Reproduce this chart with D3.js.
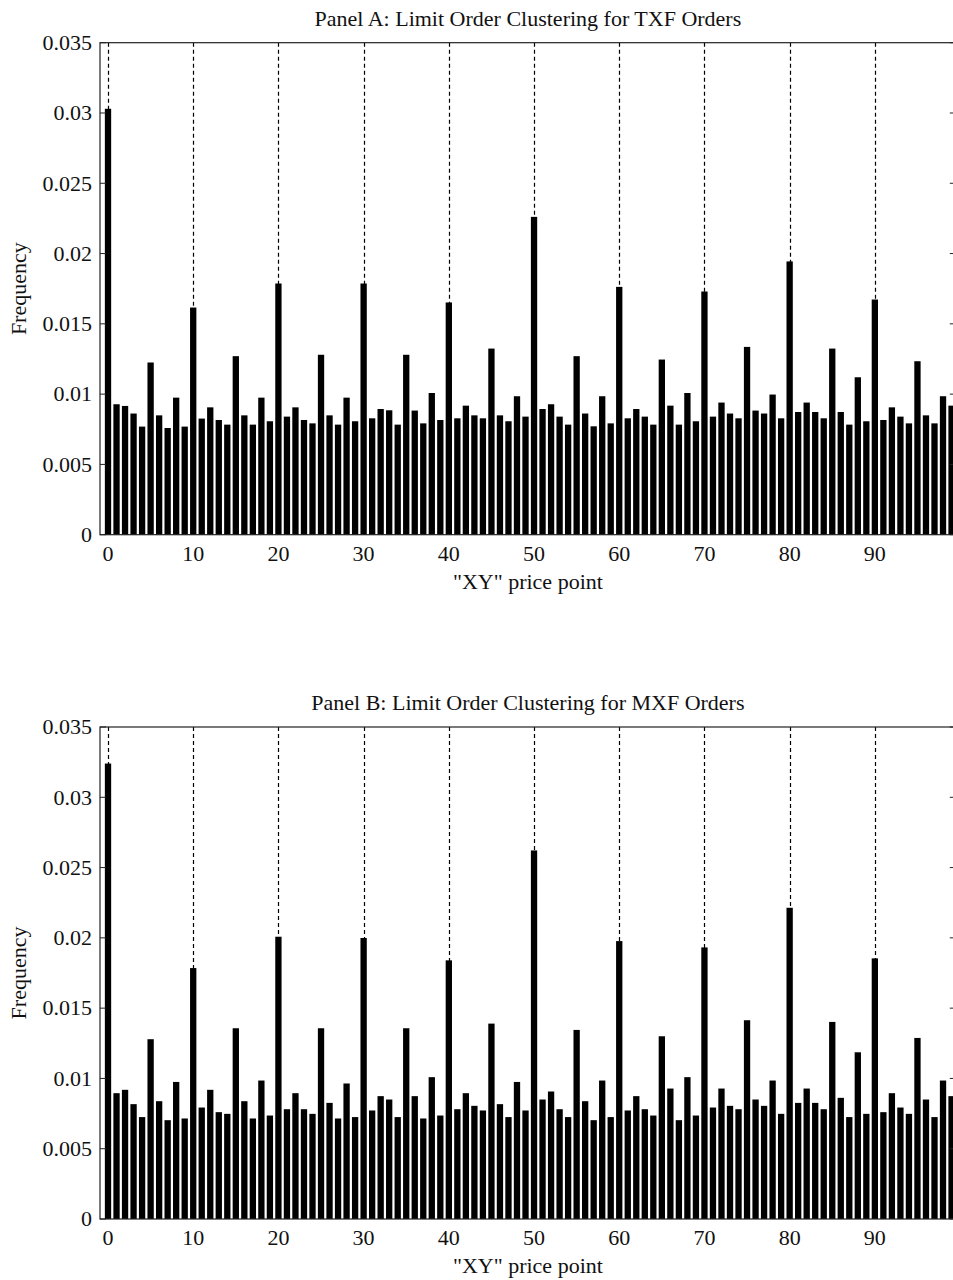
<!DOCTYPE html>
<html>
<head>
<meta charset="utf-8">
<script src="https://cdn.jsdelivr.net/npm/d3@7"></script>
<style>
  body { margin: 0; background: #fff; }
  text { font-family: "Liberation Serif", "Times New Roman", serif; fill: #111; }
</style>
</head>
<body>
<svg id="chart" width="953" height="1280"></svg>
<script>
// "XY" price points 0..99
var pricePoints = d3.range(0, 100);

// Panel A: TXF order frequency per price point
var txfFreq = [
  0.0303, 0.00928, 0.00916, 0.00862, 0.00769, 0.01225, 0.00849, 0.00759, 0.00975, 0.00769,
  0.01616, 0.00826, 0.00906, 0.00816, 0.00783, 0.0127, 0.00849, 0.00783, 0.00975, 0.00807,
  0.01787, 0.0084, 0.00906, 0.00816, 0.00792, 0.0128, 0.00849, 0.00783, 0.00975, 0.00807,
  0.01787, 0.00828, 0.00894, 0.00885, 0.00783, 0.0128, 0.00883, 0.00792, 0.01008, 0.00816,
  0.01652, 0.00828, 0.00918, 0.00849, 0.00828, 0.01324, 0.00849, 0.00807, 0.00985, 0.0084,
  0.02261, 0.00894, 0.00928, 0.0084, 0.00783, 0.0127, 0.00862, 0.00771, 0.00985, 0.00792,
  0.01763, 0.00828, 0.00894, 0.0084, 0.00783, 0.01246, 0.00918, 0.00783, 0.01008, 0.00807,
  0.0173, 0.0084, 0.0094, 0.00862, 0.00828, 0.01336, 0.00883, 0.00862, 0.00997, 0.00828,
  0.01944, 0.00873, 0.0094, 0.00873, 0.00828, 0.01324, 0.00873, 0.00783, 0.0112, 0.00807,
  0.01673, 0.00816, 0.00906, 0.0084, 0.00792, 0.01234, 0.00849, 0.00792, 0.00985, 0.00918
];

// Panel B: MXF order frequency per price point
var mxfFreq = [
  0.0324, 0.00895, 0.00919, 0.00817, 0.00725, 0.01279, 0.00838, 0.00703, 0.00975, 0.00715,
  0.01785, 0.00793, 0.00919, 0.0076, 0.00748, 0.01357, 0.00838, 0.00715, 0.00985, 0.00736,
  0.02008, 0.00781, 0.00895, 0.00781, 0.00748, 0.01357, 0.00826, 0.00715, 0.00964, 0.00725,
  0.01999, 0.00772, 0.00874, 0.0085, 0.00725, 0.01357, 0.00874, 0.00715, 0.01009, 0.00736,
  0.0184, 0.00781, 0.00895, 0.00805, 0.00772, 0.0139, 0.00817, 0.00725, 0.00975, 0.00772,
  0.02622, 0.0085, 0.00907, 0.00781, 0.00725, 0.01345, 0.00838, 0.00703, 0.00985, 0.00725,
  0.01977, 0.00772, 0.00874, 0.00781, 0.00736, 0.013, 0.00928, 0.00703, 0.01009, 0.00736,
  0.01932, 0.00793, 0.00928, 0.00805, 0.00781, 0.01414, 0.0085, 0.00805, 0.00985, 0.00748,
  0.02214, 0.00826, 0.00928, 0.00826, 0.00781, 0.01402, 0.00862, 0.00725, 0.01186, 0.00748,
  0.01854, 0.0076, 0.00895, 0.00793, 0.00748, 0.01288, 0.0085, 0.00725, 0.00985, 0.00874
];

var xTicks = [0, 10, 20, 30, 40, 50, 60, 70, 80, 90];
var yTicks = [0, 0.005, 0.01, 0.015, 0.02, 0.025, 0.03, 0.035];
var yTickLabels = ["0", "0.005", "0.01", "0.015", "0.02", "0.025", "0.03", "0.035"];

var titles = [
  "Panel A: Limit Order Clustering for TXF Orders",
  "Panel B: Limit Order Clustering for MXF Orders"
];
var xLabel = "\"XY\" price point";
var yLabel = "Frequency";

var left = 100, right = 955.8, plotH = 492;

var x = d3.scaleLinear()
    .domain([-0.94, 99.5])
    .range([left, right]);

var barW = (x(1) - x(0)) * 0.74;

function drawPanel(svg, top, title, values) {
  var y = d3.scaleLinear()
      .domain([0, 0.035])
      .range([top + plotH, top]);

  var g = svg.append("g");

  // dashed grid at every 10th point, snapped to the pixel grid
  g.selectAll(".grid")
      .data(xTicks)
    .enter().append("line")
      .attr("x1", function (d) { return Math.round(x(d)) + 0.5; })
      .attr("x2", function (d) { return Math.round(x(d)) + 0.5; })
      .attr("y1", top)
      .attr("y2", top + plotH)
      .attr("stroke", "#000")
      .attr("stroke-width", 1.2)
      .attr("stroke-dasharray", "4,3");

  g.selectAll(".bar")
      .data(values)
    .enter().append("rect")
      .attr("x", function (d, i) { return x(pricePoints[i]) - barW / 2; })
      .attr("y", function (d) { return y(d); })
      .attr("width", barW)
      .attr("height", function (d) { return y(0) - y(d); })
      .attr("fill", "#000");

  // box
  g.append("rect")
      .attr("x", left)
      .attr("y", top)
      .attr("width", right - left)
      .attr("height", plotH)
      .attr("fill", "none")
      .attr("stroke", "#222")
      .attr("stroke-width", 1.2);

  // inward ticks on left and right
  g.selectAll(".ytl")
      .data(yTicks)
    .enter().append("line")
      .attr("x1", left).attr("x2", left + 6)
      .attr("y1", function (d) { return y(d); })
      .attr("y2", function (d) { return y(d); })
      .attr("stroke", "#222");
  g.selectAll(".ytr")
      .data(yTicks)
    .enter().append("line")
      .attr("x1", right - 6).attr("x2", right)
      .attr("y1", function (d) { return y(d); })
      .attr("y2", function (d) { return y(d); })
      .attr("stroke", "#222");

  g.selectAll(".ylab")
      .data(yTicks)
    .enter().append("text")
      .attr("x", left - 8)
      .attr("y", function (d) { return y(d); })
      .attr("dy", "0.33em")
      .attr("text-anchor", "end")
      .attr("font-size", 22)
      .text(function (d, i) { return yTickLabels[i]; });

  g.selectAll(".xlab")
      .data(xTicks)
    .enter().append("text")
      .attr("x", function (d) { return x(d); })
      .attr("y", top + plotH + 26)
      .attr("text-anchor", "middle")
      .attr("font-size", 22)
      .text(function (d) { return d; });

  g.append("text")
      .attr("x", (left + right) / 2)
      .attr("y", top + plotH + 54)
      .attr("text-anchor", "middle")
      .attr("font-size", 22)
      .text(xLabel);

  g.append("text")
      .attr("transform", "translate(26," + (top + plotH / 2) + ") rotate(-90)")
      .attr("text-anchor", "middle")
      .attr("font-size", 22)
      .text(yLabel);

  g.append("text")
      .attr("x", (left + right) / 2)
      .attr("y", top - 17)
      .attr("text-anchor", "middle")
      .attr("font-size", 22)
      .text(title);
}

var svg = d3.select("#chart");
svg.append("rect").attr("width", 953).attr("height", 1280).attr("fill", "#fff");

drawPanel(svg, 42.7, titles[0], txfFreq);
drawPanel(svg, 727, titles[1], mxfFreq);
</script>
</body>
</html>
